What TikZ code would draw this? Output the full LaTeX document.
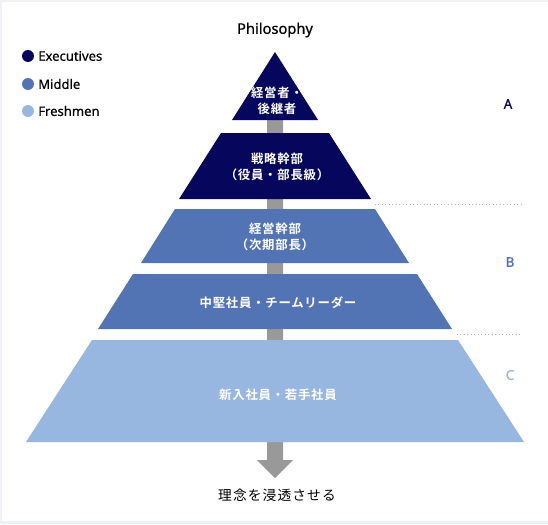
\documentclass[tikz,border=0pt]{standalone}
\usepackage{fontspec}
\setmainfont{Noto Sans}
\newfontfamily\jp{Noto Sans CJK JP}
\newfontfamily\jpb[LetterSpace=6]{Noto Sans CJK JP Bold}
\newfontfamily\jpm[LetterSpace=8]{Noto Sans CJK JP}
\newfontfamily\latb[FakeBold=1.2]{Noto Sans}
\newfontfamily\latm[FakeBold=0.5]{Noto Sans}
\usetikzlibrary{calc}
\definecolor{exec}{HTML}{06065C}
\definecolor{mid}{HTML}{5374B4}
\definecolor{fresh}{HTML}{97B6E0}
\definecolor{frame}{HTML}{EEF2F8}
\definecolor{bar}{HTML}{999999}
\definecolor{dots}{HTML}{B4B4B4}
\begin{document}
\begin{tikzpicture}[x=0.75pt,y=-0.75pt,
  intext/.style={text=white,font=\jpb\fontsize{9.3}{12}\selectfont,align=center,inner sep=0pt},
  legdot/.style={circle,inner sep=0pt,minimum size=9pt},
  legtext/.style={anchor=west,font=\latm\fontsize{9.8}{12}\selectfont,inner sep=0pt},
  grp/.style={font=\latb\fontsize{10}{12}\selectfont,inner sep=0pt},
  sep/.style={dots,dotted,line width=0.6pt}]
\useasboundingbox (0,0) rectangle (548,524);
\fill[frame] (0,0) rectangle (548,524);
\fill[white] (2,2) rectangle (548,521);
% central arrow
\fill[bar] (267,100) -- (283,100) -- (283,460) -- (293,460) -- (275,478) -- (257,460) -- (267,460) -- cycle;
% pyramid levels
\fill[exec] (275,52) -- (318,120) -- (232,120) -- cycle;
\fill[exec] (221,133) -- (329,133) -- (371,199) -- (179,199) -- cycle;
\fill[mid] (175,209) -- (375,209) -- (409,263) -- (141,263) -- cycle;
\fill[mid] (133,274) -- (417,274) -- (452,329) -- (98,329) -- cycle;
\fill[fresh] (92,340) -- (458,340) -- (524,442) -- (26,442) -- cycle;
% texts in levels
\node[intext] (t1) at (277,101) {経営者・\\後継者};
\node[intext] (t2) at (277,167) {戦略幹部\\（役員・部長級）};
\node[intext] (t3) at (275,237) {経営幹部\\（次期部長）};
\node[intext] (t4) at (278,303) {中堅社員・チームリーダー};
\node[intext] (t5) at (278,395) {新入社員・若手社員};
% title and bottom text
\node[font=\latm\fontsize{11}{13}\selectfont] (phil) at (275,30) {Philosophy};
\node[font=\jpm\fontsize{10.3}{13}\selectfont] (goal) at (277,495) {理念を浸透させる};
% legend
\node[legdot,fill=exec] (d1) at (28,56) {};
\node[legdot,fill=mid] (d2) at (28,84) {};
\node[legdot,fill=fresh] (d3) at (28,111) {};
\node[legtext] (l1) at (38,56) {Executives};
\node[legtext] (l2) at (38,84) {Middle};
\node[legtext] (l3) at (38,111) {Freshmen};
% group labels
\node[grp,text=exec] (ga) at (508,104) {A};
\node[grp,text=mid] (gb) at (510,262) {B};
\node[grp,text=fresh] (gc) at (510,375) {C};
% separators
\coordinate (s1a) at (375,204); \coordinate (s1b) at (522,204);
\coordinate (s2a) at (457,334); \coordinate (s2b) at (522,334);
\draw[sep] (s1a) -- (s1b);
\draw[sep] (s2a) -- (s2b);
\end{tikzpicture}
\end{document}
